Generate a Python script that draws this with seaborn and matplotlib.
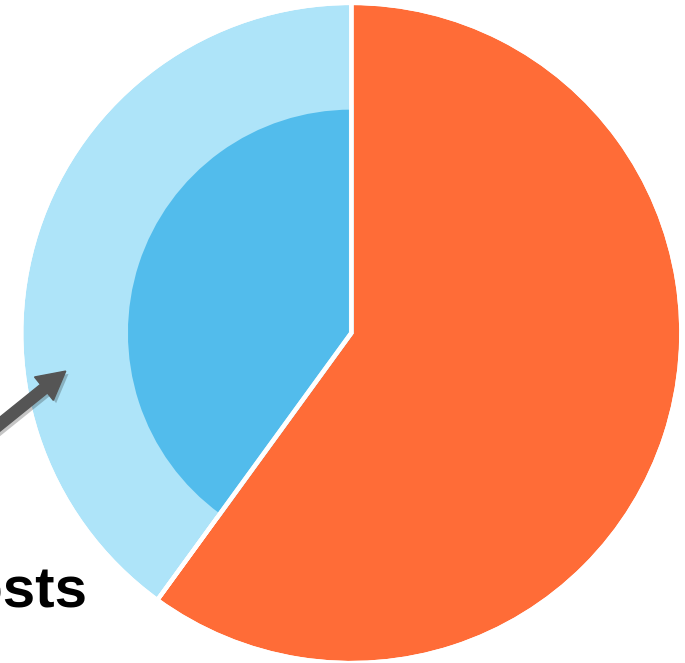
import numpy as np
import matplotlib
matplotlib.use("Agg")
import matplotlib.pyplot as plt
import matplotlib.patheffects as pe
import seaborn as sns

# Shares of the total (percent), drawn clockwise from 12 o'clock
categories = ["Revenue", "Costs"]
outer_shares = [60, 40]
# Highlighted portion inside the "Costs" slice, drawn at a reduced radius
inner_shares = [60, 40]
inner_radius_ratio = 0.684

palette = sns.color_palette(["#FF6C37", "#AEE4F9"])
inner_color = "#52BCEC"

sns.set_theme(style="white")
plt.rcParams["font.family"] = ["Liberation Sans", "DejaVu Sans"]

W, H = 685, 663
fig = plt.figure(figsize=(W / 100, H / 100), dpi=100)
ax = fig.add_axes([0, 0, 1, 1])

center = (351.3, 330.0)
R = 330.0

# Outer ring: the two main slices
ax.pie(outer_shares, colors=palette, startangle=90, counterclock=False,
       radius=R, center=center,
       wedgeprops=dict(edgecolor="white", linewidth=3.0))

# Inner highlight within the "Costs" slice
inner_wedges, _ = ax.pie(inner_shares, colors=["none", inner_color],
                         startangle=90, counterclock=False,
                         radius=R * inner_radius_ratio, center=center,
                         wedgeprops=dict(edgecolor=palette[1], linewidth=3.4))
inner_wedges[0].set_visible(False)

# Slice separators redrawn on top
ax.pie(outer_shares, colors=["none", "none"], startangle=90, counterclock=False,
       radius=R, center=center,
       wedgeprops=dict(edgecolor="white", linewidth=3.0, facecolor="none"))

# Arrow pointing into the "Costs" slice
tip_angle = np.deg2rad(187.6)
tip_r = 0.873 * R
tip = (center[0] + tip_r * np.cos(tip_angle), center[1] + tip_r * np.sin(tip_angle))
start = (tip[0] - 130, tip[1] - 130 * 0.806)
arr = ax.arrow(start[0], start[1], tip[0] - start[0], tip[1] - start[1],
               width=11, head_width=30, head_length=28,
               length_includes_head=True, color="#555555", zorder=5)
arr.set_path_effects([pe.SimplePatchShadow(offset=(2, -2), alpha=0.25), pe.Normal()])

ax.text(88, H - 607, "Costs", ha="right", va="baseline",
        fontsize=42, fontweight="bold", color="black")

ax.set_xlim(0, W)
ax.set_ylim(0, H)
ax.set_aspect("equal")
ax.axis("off")

fig.savefig("out.png", dpi=100)
